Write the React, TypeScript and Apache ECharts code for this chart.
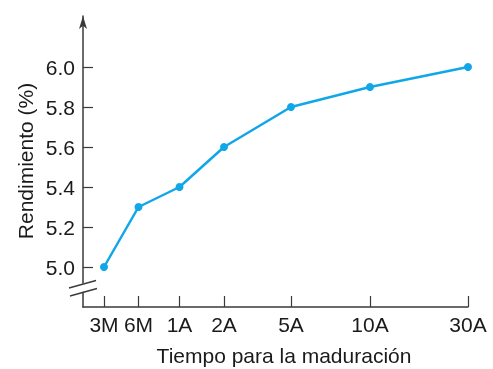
import React, { useEffect, useRef } from "react";
import * as echarts from "echarts";

const categories = ["3M", "6M", "1A", "2A", "5A", "10A", "30A"];
// position of each maturity along the (non-uniform) horizontal axis
const xPos = [21, 55.5, 96.5, 141, 208, 287, 385];
const yields = [5.0, 5.3, 5.4, 5.6, 5.8, 5.9, 6.0];
const yTicks = [5.0, 5.2, 5.4, 5.6, 5.8, 6.0];
const xTitle = "Tiempo para la maduración";
const yTitle = "Rendimiento (%)";

const FONT = "'Liberation Sans', Arial, Helvetica, sans-serif";
const AXIS = "#3a3a3a";
const TEXT = "#1a1a1a";
const LINE = "#10a7e8";

export default function App() {
  const ref = useRef<HTMLDivElement>(null);
  useEffect(() => {
    if (!ref.current) return;
    const chart = echarts.init(ref.current, null, { renderer: "svg" });
    chart.setOption({
      animation: false,
      grid: { left: 83, right: 25, top: 16, bottom: 62 },
      xAxis: {
        type: "value",
        min: 0,
        max: 385,
        splitLine: { show: false },
        axisLine: { show: true, lineStyle: { color: AXIS, width: 1.5 } },
        axisTick: {
          show: true,
          inside: true,
          length: 11,
          customValues: xPos,
          lineStyle: { color: AXIS, width: 1.2 },
        },
        axisLabel: {
          customValues: xPos,
          margin: 7,
          fontFamily: FONT,
          fontSize: 21,
          color: TEXT,
          formatter: (v: number) => {
            const i = xPos.findIndex((p) => Math.abs(p - v) < 1e-6);
            return i >= 0 ? categories[i] : "";
          },
        },
      },
      yAxis: {
        type: "value",
        min: 4.8,
        max: 6.255,
        splitLine: { show: false },
        axisLine: {
          show: true,
          symbol: ["none", "arrow"],
          symbolSize: [6, 13],
          lineStyle: { color: AXIS, width: 1.5 },
        },
        axisTick: {
          show: true,
          inside: true,
          length: 10,
          customValues: yTicks,
          lineStyle: { color: AXIS, width: 1.2 },
        },
        axisLabel: {
          customValues: yTicks,
          margin: 8,
          fontFamily: FONT,
          fontSize: 21,
          color: TEXT,
          formatter: (v: number) => v.toFixed(1),
        },
      },
      series: [
        {
          type: "line",
          data: xPos.map((x, i) => [x, yields[i]]),
          symbol: "circle",
          symbolSize: 8,
          lineStyle: { color: LINE, width: 2.5 },
          itemStyle: { color: LINE },
          z: 3,
        },
      ],
      graphic: [
        {
          type: "polygon",
          z: 100,
          shape: { points: [[74, 286], [92, 281], [93, 289], [75, 294]] },
          style: { fill: "#fff" },
        },
        {
          type: "line",
          z: 101,
          shape: { x1: 69, y1: 288, x2: 96, y2: 280.5 },
          style: { stroke: AXIS, lineWidth: 1.3 },
        },
        {
          type: "line",
          z: 101,
          shape: { x1: 70, y1: 296, x2: 97, y2: 288.5 },
          style: { stroke: AXIS, lineWidth: 1.3 },
        },
        {
          type: "text",
          x: 284,
          y: 355,
          style: {
            text: xTitle,
            fontFamily: FONT,
            fontSize: 21,
            fill: TEXT,
            textAlign: "center",
            textVerticalAlign: "middle",
          },
        },
        {
          type: "text",
          x: 25,
          y: 161,
          rotation: Math.PI / 2,
          style: {
            text: yTitle,
            fontFamily: FONT,
            fontSize: 21,
            fill: TEXT,
            textAlign: "center",
            textVerticalAlign: "middle",
          },
        },
      ],
    });
    return () => chart.dispose();
  }, []);
  return (
    <div
      ref={ref}
      style={{ position: "fixed", left: 0, top: 0, width: 493, height: 369 }}
    />
  );
}
